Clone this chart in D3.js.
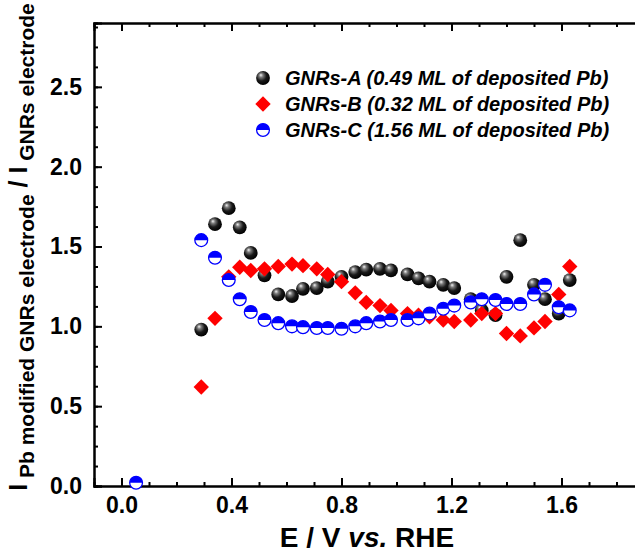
<!DOCTYPE html>
<html>
<head>
<meta charset="utf-8">
<script src="https://cdn.jsdelivr.net/npm/d3@7"></script>
<style>
body { margin: 0; background: #fff; }
text { font-family: "Liberation Sans", Arial, sans-serif; font-weight: bold; }
</style>
</head>
<body>
<div id="graph"></div>
<script>
// potentials (V vs RHE) shared by the three electrodes
var potentials = [0.29, 0.34, 0.39, 0.43, 0.47, 0.52, 0.57, 0.62, 0.66, 0.71,
                  0.75, 0.80, 0.85, 0.89, 0.94, 0.98, 1.04, 1.08, 1.12, 1.17,
                  1.21, 1.27, 1.31, 1.36, 1.40, 1.45, 1.50, 1.54, 1.59, 1.63];
var gnrsA = [0.98, 1.64, 1.74, 1.62, 1.46, 1.32, 1.20, 1.19, 1.235, 1.24,
             1.28, 1.31, 1.34, 1.355, 1.36, 1.35, 1.325, 1.30, 1.28, 1.26,
             1.24, 1.17, 1.10, 1.07, 1.31, 1.54, 1.26, 1.17, 1.08, 1.29];
var gnrsB = [0.62, 1.05, 1.31, 1.37, 1.35, 1.36, 1.375, 1.39, 1.38, 1.36,
             1.325, 1.28, 1.21, 1.15, 1.13, 1.10, 1.08, 1.07, 1.06, 1.04,
             1.03, 1.04, 1.08, 1.08, 0.955, 0.94, 0.99, 1.03, 1.20, 1.375];
var gnrsC = [1.54, 1.43, 1.29, 1.17, 1.09, 1.04, 1.02, 1.00, 0.995, 0.99,
             0.99, 0.985, 1.00, 1.02, 1.03, 1.04, 1.04, 1.05, 1.08, 1.11,
             1.13, 1.15, 1.17, 1.165, 1.14, 1.14, 1.20, 1.26, 1.12, 1.10];
// lone GNRs-C point near 0 V
var gnrsCExtraX = [0.053];
var gnrsCExtraY = [0.02];

var legendLabels = ["GNRs-A (0.49 ML of deposited Pb)",
                    "GNRs-B (0.32 ML of deposited Pb)",
                    "GNRs-C (1.56 ML of deposited Pb)"];
var xTicks = [0.0, 0.4, 0.8, 1.2, 1.6];
var yTicks = [0.0, 0.5, 1.0, 1.5, 2.0, 2.5];

var margin = {top: 23, right: 0, bottom: 65, left: 94};
var w = 550, h = 463;

var root = d3.select("#graph")
            .append("svg")
            .attr("width", 635)
            .attr("height", 551);

var defs = root.append("defs");
var grad = defs.append("radialGradient")
            .attr("id", "sphere")
            .attr("cx", "0.42").attr("cy", "0.40").attr("r", "0.6")
            .attr("fx", "0.34").attr("fy", "0.28");
grad.append("stop").attr("offset", "0%").attr("stop-color", "#f4f4f4");
grad.append("stop").attr("offset", "25%").attr("stop-color", "#7a7a7a");
grad.append("stop").attr("offset", "60%").attr("stop-color", "#1a1a1a");
grad.append("stop").attr("offset", "100%").attr("stop-color", "#000");

var svg = root.append("g")
            .attr("transform", "translate(" + margin.left + "," + margin.top + ")");

var x = d3.scaleLinear().domain([-0.1, 1.9]).range([0, w]);
var y = d3.scaleLinear().domain([0, 2.9]).range([h, 0]);

var fmt = d3.format(".1f");
var xMinor = d3.range(0, 19).map(function(i) { return i / 10; });
var yMinor = d3.range(0, 24).map(function(i) { return i / 8; });

// minor ticks
svg.append("g")
    .attr("transform", "translate(0," + h + ")")
    .call(d3.axisBottom(x).tickValues(xMinor).tickSize(-4).tickFormat(""));
svg.append("g")
    .call(d3.axisTop(x).tickValues(xMinor).tickSize(-4).tickFormat(""));
svg.append("g")
    .call(d3.axisLeft(y).tickValues(yMinor).tickSize(-4).tickFormat(""));

// major ticks
svg.append("g")
    .attr("class", "xaxis")
    .attr("transform", "translate(0," + h + ")")
    .call(d3.axisBottom(x).tickValues(xTicks).tickSize(-8).tickPadding(11).tickFormat(fmt));
svg.append("g")
    .call(d3.axisTop(x).tickValues(xTicks).tickSize(-8).tickFormat(""));
svg.append("g")
    .attr("class", "yaxis")
    .call(d3.axisLeft(y).tickValues(yTicks).tickSize(-8).tickPadding(12).tickFormat(fmt));

svg.selectAll(".domain").attr("stroke-width", 2).attr("stroke", "#000");
svg.selectAll(".tick line").attr("stroke-width", 2).attr("stroke", "#000");
svg.selectAll(".xaxis text, .yaxis text")
    .style("font-size", "23px")
    .style("font-weight", "bold")
    .style("font-family", "Liberation Sans, Arial, sans-serif")
    .attr("fill", "#000");

// series
var dataA = potentials.map(function(p, i) { return {x: p, y: gnrsA[i]}; });
var dataB = potentials.map(function(p, i) { return {x: p, y: gnrsB[i]}; });
var dataC = gnrsCExtraX.map(function(p, i) { return {x: p, y: gnrsCExtraY[i]}; })
            .concat(potentials.map(function(p, i) { return {x: p, y: gnrsC[i]}; }));

var diamond = d3.symbol().type(d3.symbolSquare).size(118);
var rC = 6.4;
var halfTop = "M" + (-rC) + ",0A" + rC + "," + rC + " 0 0 1 " + rC + ",0Z";

function drawSphere(sel) {
    sel.append("circle").attr("r", 6.9).attr("fill", "url(#sphere)");
}
function drawDiamond(sel) {
    sel.append("path").attr("d", diamond).attr("transform", "rotate(45)").attr("fill", "#ff0000");
}
function drawHalf(sel) {
    sel.append("circle").attr("r", rC).attr("fill", "#fff")
        .attr("stroke", "#0000ff").attr("stroke-width", 1.3);
    sel.append("path").attr("d", halfTop).attr("fill", "#0000ff");
}

svg.selectAll("g.ptA")
    .data(dataA)
    .enter()
        .append("g")
        .attr("class", "ptA")
        .attr("transform", function(d) { return "translate(" + x(d.x) + "," + y(d.y) + ")"; })
        .call(drawSphere);

svg.selectAll("g.ptB")
    .data(dataB)
    .enter()
        .append("g")
        .attr("class", "ptB")
        .attr("transform", function(d) { return "translate(" + x(d.x) + "," + y(d.y) + ")"; })
        .call(drawDiamond);

svg.selectAll("g.ptC")
    .data(dataC)
    .enter()
        .append("g")
        .attr("class", "ptC")
        .attr("transform", function(d) { return "translate(" + x(d.x) + "," + y(d.y) + ")"; })
        .call(drawHalf);

// legend
var drawers = [drawSphere, drawDiamond, drawHalf];
var legend = root.append("g");
legendLabels.forEach(function(lab, i) {
    var row = legend.append("g").attr("transform", "translate(263," + (78 + i * 26) + ")");
    row.call(drawers[i]);
    row.append("text")
        .attr("x", 22)
        .attr("dy", "0.36em")
        .style("font-size", "20px")
        .style("font-style", "italic")
        .text(lab);
});

// axis titles
var xt = root.append("text")
    .attr("x", 367)
    .attr("y", 547)
    .attr("text-anchor", "middle")
    .style("font-size", "28px");
xt.append("tspan").text("E / V ");
xt.append("tspan").style("font-style", "italic").text("vs.");
xt.append("tspan").text(" RHE");

var yt = root.append("text")
    .attr("transform", "translate(27,247) rotate(-90)")
    .attr("text-anchor", "middle")
    .style("font-size", "25px");
yt.append("tspan").text("I");
yt.append("tspan").attr("dy", 7).style("font-size", "21px").text(" Pb modified GNRs electrode");
yt.append("tspan").attr("dy", -7).text(" / I");
yt.append("tspan").attr("dy", 7).style("font-size", "21px").text(" GNRs electrode");
</script>
</body>
</html>
